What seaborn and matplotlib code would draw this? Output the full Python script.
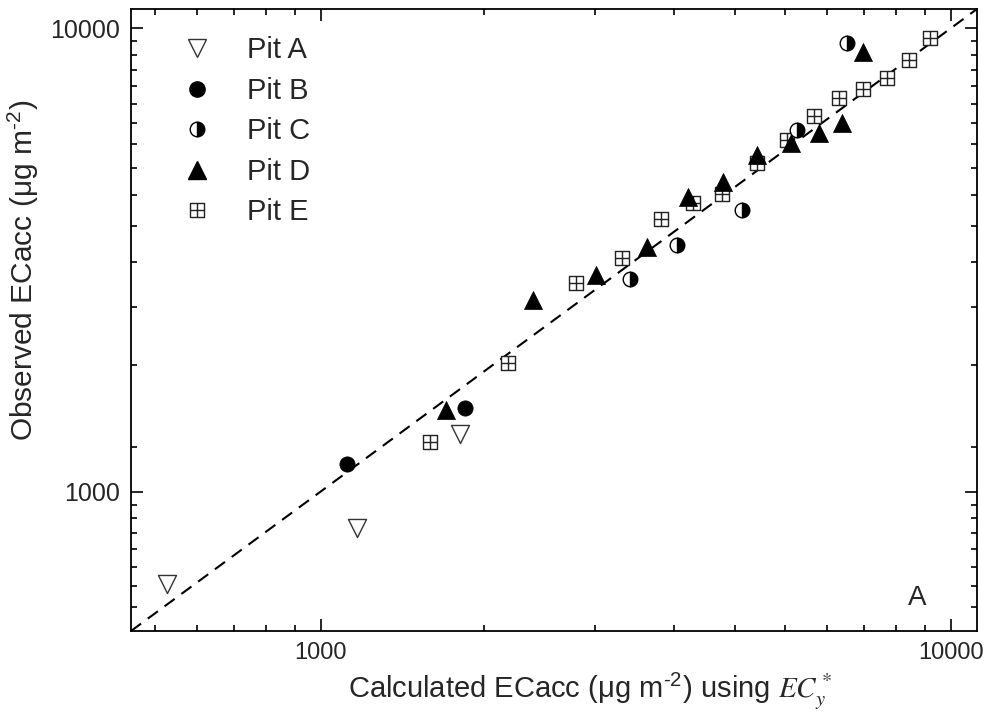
import numpy as np
import matplotlib
matplotlib.use("Agg")
import matplotlib.pyplot as plt
import matplotlib.ticker as mticker
from matplotlib.lines import Line2D
from matplotlib.path import Path
import pandas as pd
import seaborn as sns

# ─── Data ─────────────────────────────────────────────────────────────────────
pit_a_calc = [571, 1141, 1662]
pit_a_obs  = [630, 836, 1334]

pit_b_calc = [1100, 1693]
pit_b_obs  = [1149, 1517]

pit_c_calc = [3094, 3674, 4660, 5695, 6838]
pit_c_obs  = [2877, 3407, 4053, 6029, 9284]

pit_d_calc = [1579, 2170, 2733, 3292, 3824, 4346, 4921, 5572, 6172, 6714, 7250]
pit_d_obs  = [1502, 2593, 2936, 3373, 4323, 4657, 5324, 5651, 5938, 6242, 8877]

pit_e_calc = [1489, 1981, 2540, 3004, 3464, 3895, 4330, 4921, 5492, 6060,
              6641, 7250, 7914, 8577, 9262]
pit_e_obs  = [1281, 1897, 2821, 3194, 3876, 4196, 4387, 5117, 5735, 6461,
              7066, 7388, 7801, 8531, 9516]

one_to_one = [500, 11000]
axis_limits = (500, 11000)
major_ticks = [1000, 10000]
x_minor_ticks = list(np.arange(6, 11) * 10000 / 110) + list(np.arange(2, 11) * 10000 / 11)
y_minor_ticks = list(np.arange(9, 16) * 62.5) + list(np.arange(2, 16) * 625)

# ─── Style ────────────────────────────────────────────────────────────────────
sns.set_style("ticks")
plt.rcParams["font.family"] = ["Liberation Sans", "DejaVu Sans"]
plt.rcParams["mathtext.fontset"] = "stix"

cross_square = Path(
    [(-1, -1), (1, -1), (1, 1), (-1, 1), (-1, -1),
     (0, -1), (0, 1), (-1, 0), (1, 0)],
    [Path.MOVETO, Path.LINETO, Path.LINETO, Path.LINETO, Path.CLOSEPOLY,
     Path.MOVETO, Path.LINETO, Path.MOVETO, Path.LINETO])

fig = plt.figure(figsize=(9.9, 7.13), dpi=100)
ax = fig.add_axes([131 / 990, 1 - 631 / 713, 846 / 990, 622 / 713])
ax.set_xscale("log")
ax.set_yscale("log")

# 1:1 line
sns.lineplot(x=one_to_one, y=one_to_one, ax=ax, color="black", linewidth=1.5,
             zorder=1)
ax.lines[-1].set_dashes((6, 4))

sns.scatterplot(x=pit_a_calc, y=pit_a_obs, ax=ax, marker="v", s=13 ** 2,
                facecolor="white", edgecolor="#333333", linewidth=1.0, zorder=3)
sns.scatterplot(x=pit_b_calc, y=pit_b_obs, ax=ax, marker="o", s=11 ** 2,
                color="black", edgecolor="black", linewidth=0.5, zorder=3)
sns.scatterplot(x=pit_e_calc, y=pit_e_obs, ax=ax, marker=cross_square, s=10 ** 2,
                facecolor="white", edgecolor="#222222", linewidth=1.0, zorder=3)
sns.scatterplot(x=pit_d_calc, y=pit_d_obs, ax=ax, marker="^", s=13 ** 2,
                color="black", edgecolor="black", linewidth=0.5, zorder=4)
# half-filled circles need Line2D fillstyle
ax.plot(pit_c_calc, pit_c_obs, linestyle="none", marker="o", markersize=10.5,
        fillstyle="right", markerfacecolor="black", markerfacecoloralt="white",
        markeredgecolor="black", markeredgewidth=1.0, zorder=4)

ax.set_xlim(*axis_limits)
ax.set_ylim(*axis_limits)

for axis, minors in ((ax.xaxis, x_minor_ticks), (ax.yaxis, y_minor_ticks)):
    axis.set_major_locator(mticker.FixedLocator(major_ticks))
    axis.set_major_formatter(mticker.FixedFormatter(["1000", "10000"]))
    axis.set_minor_locator(mticker.FixedLocator(minors))
    axis.set_minor_formatter(mticker.NullFormatter())

ax.tick_params(which="both", direction="in", top=True, right=True,
               color="black", width=1.2)
ax.tick_params(which="major", length=8.5, pad=8)
ax.tick_params(which="minor", length=4.3)
ax.tick_params(axis="x", labelsize=17)
ax.tick_params(axis="y", labelsize=18)
for sp in ax.spines.values():
    sp.set_linewidth(1.3)
    sp.set_color("black")

sup = "$^{\\mathregular{\u20102}}$"
ax.set_xlabel("Calculated ECacc (μg m" + sup + ") using $EC_y^*$", fontsize=21)
ax.set_ylabel("Observed ECacc (μg m" + sup + ")", fontsize=21.5)
ax.xaxis.set_label_coords(0.542, -0.066)
ax.yaxis.set_label_coords(-0.106, 0.58)

ax.text(917 / 990, 1 - 598 / 713, "A", transform=fig.transFigure, fontsize=20,
        ha="center", va="center")

handles = [
    Line2D([], [], linestyle="none", marker="v", markersize=13,
           markerfacecolor="white", markeredgecolor="#333333", markeredgewidth=1.0),
    Line2D([], [], linestyle="none", marker="o", markersize=11,
           markerfacecolor="black", markeredgecolor="black"),
    Line2D([], [], linestyle="none", marker="o", markersize=10.5, fillstyle="right",
           markerfacecolor="black", markerfacecoloralt="white",
           markeredgecolor="black", markeredgewidth=1.0),
    Line2D([], [], linestyle="none", marker="^", markersize=13,
           markerfacecolor="black", markeredgecolor="black"),
    Line2D([], [], linestyle="none", marker=cross_square, markersize=10,
           markerfacecolor="white", markeredgecolor="#222222", markeredgewidth=1.0),
]
labels = ["Pit A", "Pit B", "Pit C", "Pit D", "Pit E"]
ax.legend(handles, labels, loc="upper left", bbox_to_anchor=(0.047, 0.975),
          frameon=False, fontsize=21, handlelength=1.0, handletextpad=1.2,
          labelspacing=0.43, borderaxespad=0)

fig.savefig("out.png", dpi=100)
